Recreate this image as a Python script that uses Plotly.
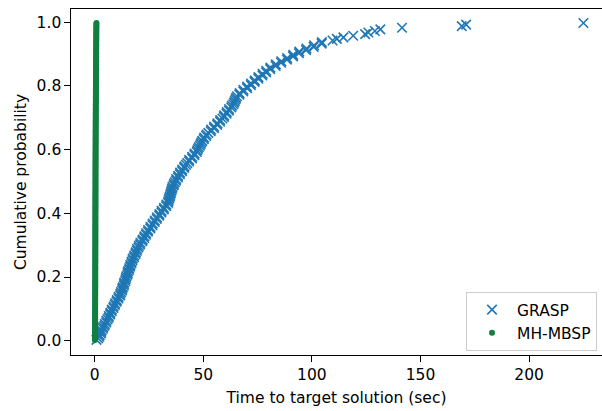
import plotly.graph_objects as go

# Cumulative probability levels (shared by both series)
cum_prob = [
    0.0025, 0.0075, 0.0125, 0.0175, 0.0225, 0.0275, 0.0325, 0.0375, 0.0425, 0.0475,
    0.0525, 0.0575, 0.0625, 0.0675, 0.0725, 0.0775, 0.0825, 0.0875, 0.0925, 0.0975,
    0.1025, 0.1075, 0.1125, 0.1175, 0.1225, 0.1275, 0.1325, 0.1375, 0.1425, 0.1475,
    0.1525, 0.1575, 0.1625, 0.1675, 0.1725, 0.1775, 0.1825, 0.1875, 0.1925, 0.1975,
    0.2025, 0.2075, 0.2125, 0.2175, 0.2225, 0.2275, 0.2325, 0.2375, 0.2425, 0.2475,
    0.2525, 0.2575, 0.2625, 0.2675, 0.2725, 0.2775, 0.2825, 0.2875, 0.2925, 0.2975,
    0.3025, 0.3075, 0.3125, 0.3175, 0.3225, 0.3275, 0.3325, 0.3375, 0.3425, 0.3475,
    0.3525, 0.3575, 0.3625, 0.3675, 0.3725, 0.3775, 0.3825, 0.3875, 0.3925, 0.3975,
    0.4025, 0.4075, 0.4125, 0.4175, 0.4225, 0.4275, 0.4325, 0.4375, 0.4425, 0.4475,
    0.4525, 0.4575, 0.4625, 0.4675, 0.4725, 0.4775, 0.4825, 0.4875, 0.4925, 0.4975,
    0.5025, 0.5075, 0.5125, 0.5175, 0.5225, 0.5275, 0.5325, 0.5375, 0.5425, 0.5475,
    0.5525, 0.5575, 0.5625, 0.5675, 0.5725, 0.5775, 0.5825, 0.5875, 0.5925, 0.5975,
    0.6025, 0.6075, 0.6125, 0.6175, 0.6225, 0.6275, 0.6325, 0.6375, 0.6425, 0.6475,
    0.6525, 0.6575, 0.6625, 0.6675, 0.6725, 0.6775, 0.6825, 0.6875, 0.6925, 0.6975,
    0.7025, 0.7075, 0.7125, 0.7175, 0.7225, 0.7275, 0.7325, 0.7375, 0.7425, 0.7475,
    0.7525, 0.7575, 0.7625, 0.7675, 0.7725, 0.7775, 0.7825, 0.7875, 0.7925, 0.7975,
    0.8025, 0.8075, 0.8125, 0.8175, 0.8225, 0.8275, 0.8325, 0.8375, 0.8425, 0.8475,
    0.8525, 0.8575, 0.8625, 0.8675, 0.8725, 0.8775, 0.8825, 0.8875, 0.8925, 0.8975,
    0.9025, 0.9075, 0.9125, 0.9175, 0.9225, 0.9275, 0.9325, 0.9375, 0.9425, 0.9475,
    0.9525, 0.9575, 0.9625, 0.9675, 0.9725, 0.9775, 0.9825, 0.9875, 0.9925, 0.9975,
]

# GRASP time to target (sec)
grasp_time = [
    0.8, 1.6, 2.1, 2.3, 2.9, 3.0, 3.2, 3.8, 3.9, 4.5,
    4.7, 5.3, 5.4, 5.9, 6.4, 6.5, 7.1, 7.2, 7.8, 7.9,
    8.6, 8.7, 9.3, 9.4, 10.1, 10.2, 10.9, 11.0, 11.7, 11.8,
    12.1, 12.6, 12.7, 12.9, 13.4, 13.5, 13.6, 14.1, 14.2, 14.4,
    14.6, 15.1, 15.2, 15.3, 15.8, 15.9, 16.3, 16.4, 16.9, 17.0,
    17.4, 17.5, 18.1, 18.2, 18.8, 18.9, 19.4, 19.5, 20.1, 20.3,
    20.9, 21.1, 21.9, 22.1, 22.8, 22.9, 23.6, 23.7, 24.5, 24.6,
    25.6, 25.7, 26.6, 26.7, 27.6, 27.7, 28.6, 28.7, 29.7, 29.8,
    30.7, 30.8, 31.8, 31.9, 32.9, 33.0, 33.8, 33.9, 34.1, 34.3,
    34.6, 34.8, 35.0, 35.2, 35.4, 35.6, 35.8, 36.3, 36.5, 36.9,
    37.4, 37.5, 38.3, 38.4, 39.2, 39.3, 40.2, 40.3, 41.2, 41.3,
    42.0, 42.6, 43.4, 43.5, 44.8, 44.9, 45.9, 46.0, 47.0, 47.2,
    47.6, 47.9, 48.4, 48.8, 49.1, 49.5, 50.2, 50.4, 51.3, 51.5,
    52.3, 53.4, 53.6, 54.9, 55.0, 56.4, 56.5, 57.7, 57.8, 58.8,
    59.5, 59.6, 60.7, 60.8, 61.8, 61.9, 62.9, 63.2, 63.8, 64.2,
    64.5, 64.8, 65.1, 65.5, 66.6, 66.7, 68.4, 68.5, 70.1, 70.2,
    71.9, 72.0, 73.6, 73.7, 75.3, 75.4, 77.2, 77.3, 78.9, 79.0,
    80.8, 80.9, 83.3, 83.4, 85.8, 85.9, 88.5, 88.6, 91.3, 91.4,
    94.0, 94.2, 97.3, 97.5, 100.8, 101.0, 104.5, 104.6, 109.5, 111.5,
    114.5, 119.0, 124.5, 126.0, 129.0, 131.5, 141.5, 169.0, 171.0, 225.0,
]

# MH-MBSP time to target (sec)
mhmbsp_time = [
    0.10, 0.11, 0.12, 0.13, 0.14, 0.15, 0.15, 0.16, 0.16, 0.17,
    0.17, 0.18, 0.18, 0.19, 0.19, 0.19, 0.20, 0.20, 0.20, 0.21,
    0.21, 0.21, 0.22, 0.22, 0.22, 0.22, 0.23, 0.23, 0.23, 0.23,
    0.24, 0.24, 0.24, 0.24, 0.25, 0.25, 0.25, 0.25, 0.25, 0.26,
    0.26, 0.26, 0.26, 0.26, 0.27, 0.27, 0.27, 0.27, 0.27, 0.28,
    0.28, 0.28, 0.28, 0.28, 0.28, 0.29, 0.29, 0.29, 0.29, 0.29,
    0.29, 0.30, 0.30, 0.30, 0.30, 0.30, 0.30, 0.31, 0.31, 0.31,
    0.31, 0.31, 0.31, 0.32, 0.32, 0.32, 0.32, 0.32, 0.32, 0.33,
    0.33, 0.33, 0.33, 0.33, 0.33, 0.34, 0.34, 0.34, 0.34, 0.34,
    0.34, 0.35, 0.35, 0.35, 0.35, 0.35, 0.36, 0.36, 0.36, 0.36,
    0.36, 0.37, 0.37, 0.37, 0.37, 0.37, 0.38, 0.38, 0.38, 0.38,
    0.39, 0.39, 0.39, 0.39, 0.40, 0.40, 0.40, 0.40, 0.41, 0.41,
    0.41, 0.41, 0.42, 0.42, 0.42, 0.43, 0.43, 0.43, 0.44, 0.44,
    0.44, 0.45, 0.45, 0.45, 0.46, 0.46, 0.46, 0.47, 0.47, 0.48,
    0.48, 0.48, 0.49, 0.49, 0.50, 0.50, 0.51, 0.51, 0.52, 0.52,
    0.53, 0.53, 0.54, 0.54, 0.55, 0.55, 0.56, 0.56, 0.57, 0.57,
    0.58, 0.58, 0.59, 0.59, 0.60, 0.60, 0.61, 0.61, 0.62, 0.62,
    0.63, 0.63, 0.64, 0.64, 0.65, 0.65, 0.66, 0.66, 0.67, 0.67,
    0.68, 0.68, 0.69, 0.69, 0.70, 0.70, 0.71, 0.71, 0.72, 0.72,
    0.73, 0.73, 0.74, 0.74, 0.75, 0.75, 0.76, 0.77, 0.78, 0.80,
]

x_ticks = [0, 50, 100, 150, 200]
y_ticks = [0.0, 0.2, 0.4, 0.6, 0.8, 1.0]
y_tick_labels = ["0.0", "0.2", "0.4", "0.6", "0.8", "1.0"]

BLUE = "#1f77b4"
GREEN = "#117f40"
FONT = "DejaVu Sans"
FS = 15.5

fig = go.Figure()
fig.add_trace(go.Scatter(
    x=grasp_time, y=cum_prob, mode="markers", name="GRASP",
    marker=dict(symbol="x-thin", size=9.5, color=BLUE,
                line=dict(width=1.6, color=BLUE)),
))
fig.add_trace(go.Scatter(
    x=mhmbsp_time, y=cum_prob, mode="markers", name="MH-MBSP",
    marker=dict(symbol="circle", size=6, color=GREEN,
                line=dict(width=0)),
))

fig.update_layout(
    width=602, height=411,
    margin=dict(l=71, r=0, t=9, b=56, autoexpand=False),
    paper_bgcolor="white", plot_bgcolor="white",
    font=dict(family=FONT, size=FS, color="black"),
    legend=dict(
        x=0.9906, y=0.0115, xanchor="right", yanchor="bottom",
        bordercolor="#cccccc", borderwidth=1, bgcolor="rgba(255,255,255,0.8)",
        font=dict(family=FONT, size=FS, color="black"),
        itemwidth=40,
    ),
    xaxis=dict(
        range=[-10.91, 233.56], tickvals=x_ticks, automargin=False,
        showgrid=False, zeroline=False,
        showline=True, linecolor="black", linewidth=1.3, mirror=True,
        ticks="outside", ticklen=5.5, tickwidth=1.3, tickcolor="black",
        tickfont=dict(family=FONT, size=FS, color="black"),
        title=dict(text="Time to target solution (sec)", standoff=8,
                   font=dict(family=FONT, size=FS, color="black")),
    ),
    yaxis=dict(
        range=[-0.0449, 1.0414], tickvals=y_ticks, ticktext=y_tick_labels,
        automargin=False,
        showgrid=False, zeroline=False,
        showline=True, linecolor="black", linewidth=1.3, mirror=False,
        ticks="outside", ticklen=5.5, tickwidth=1.3, tickcolor="black",
        tickfont=dict(family=FONT, size=FS, color="black"),
        title=dict(text="Cumulative probability", standoff=6,
                   font=dict(family=FONT, size=FS, color="black")),
    ),
)

fig.write_html(
    "out.html",
    config={"displayModeBar": False},
    post_script="document.body.style.margin='0';document.body.style.overflow='hidden';",
)
